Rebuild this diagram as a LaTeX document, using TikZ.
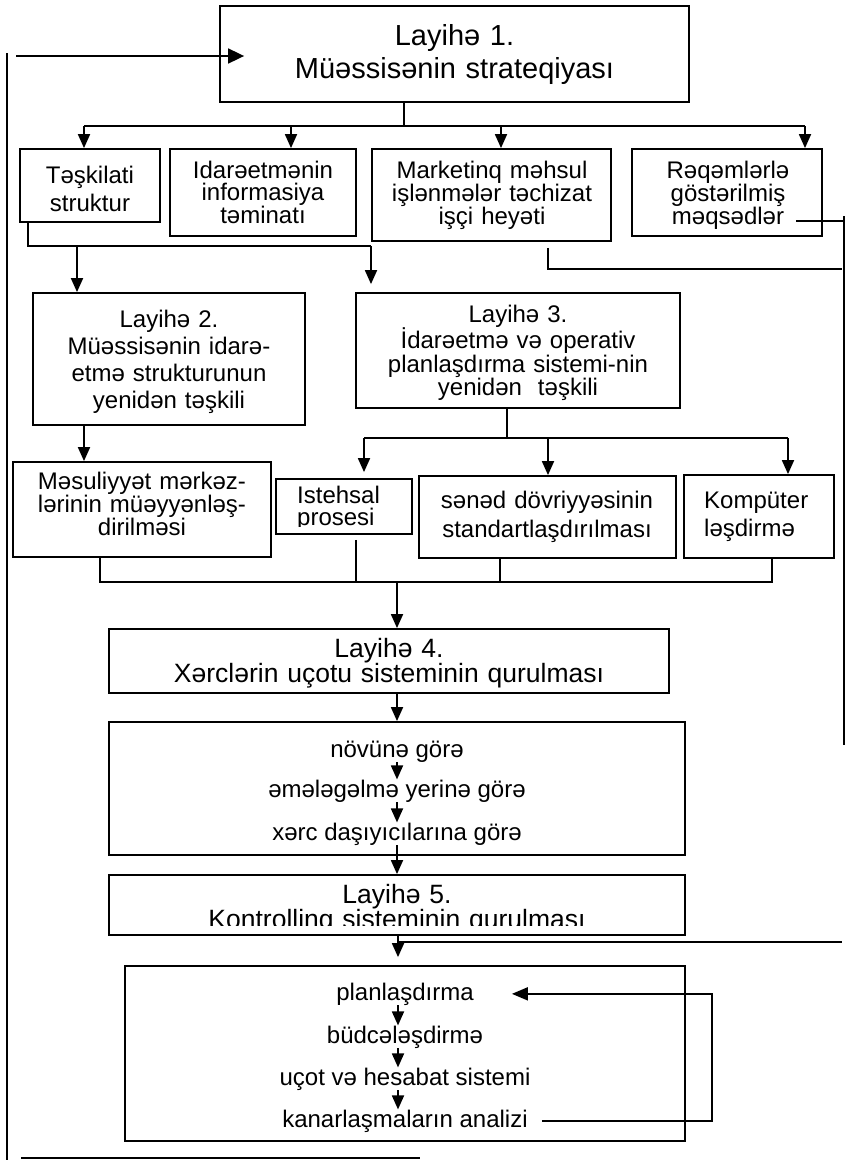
\documentclass[tikz,border=0pt]{standalone}
\usepackage{fontspec}
\setmainfont{Liberation Sans}
\usetikzlibrary{arrows.meta}
% tight Word-like line spacing: never insert extra \lineskip
\lineskiplimit=-1000pt
\lineskip=0pt
\begin{document}
\begin{tikzpicture}[x=1pt,y=-1pt,
  box/.style={draw, line width=1.8pt, inner sep=0pt, rectangle},
  ln/.style={line width=1.8pt},
  thin/.style={line width=1.4pt},
  arr/.style={ln, -{Triangle[width=12pt,length=14pt]}},
  fsz/.style 2 args={font=\fontsize{#1}{#2}\selectfont},
  mtxt/.style={anchor=base, inner sep=0pt, align=center, text width=#1},
  ltxt/.style={anchor=base west, inner sep=0pt, align=left, text width=200pt},
  stxt/.style={anchor=base, inner sep=0pt, font=\fontsize{24}{28}\selectfont}]
\useasboundingbox (0,0) rectangle (846,1160);

% ---------- boxes ----------
\node[box, minimum width=469, minimum height=96]  (L1) at (454.5,54)    {};
\node[box, minimum width=140, minimum height=73]  (tk) at (90,185.5)    {};
\node[box, minimum width=186, minimum height=87]  (id) at (263,192.5)   {};
\node[box, minimum width=239, minimum height=92]  (mk) at (491.5,195)   {};
\node[box, minimum width=190, minimum height=87]  (rq) at (727,192.5)   {};
\node[box, minimum width=272, minimum height=132] (L2) at (169,359)     {};
\node[box, minimum width=324, minimum height=115] (L3) at (518,350.5)   {};
\node[box, minimum width=258, minimum height=95]  (ms) at (142,509.5)   {};
\node[box, minimum width=136, minimum height=55]  (is) at (344,506.5)   {};
\node[box, minimum width=257, minimum height=82]  (sn) at (547.5,517)   {};
\node[box, minimum width=150, minimum height=83]  (kp) at (759,516.5)   {};
\node[box, minimum width=560, minimum height=64]  (L4) at (389,661)     {};
\node[box, minimum width=576, minimum height=133] (kx) at (397,788.5)   {};
\node[box, minimum width=576, minimum height=60]  (L5) at (397,905)     {};
\node[box, minimum width=560, minimum height=175] (kt) at (405,1053.5)  {};

% ---------- texts ----------
\node[mtxt=400, fsz={29}{33}]   (tL1) at (454.5,45) {Layihə 1.\\Müəssisənin strateqiyası};
\node[mtxt=200, fsz={24}{28}]   (ttk) at (90,183)   {Təşkilati\\struktur};
\node[mtxt=220, fsz={24}{22}]   (tid) at (263,178)  {Idarəetmənin\\informasiya\\təminatı};
\node[mtxt=260, fsz={24}{22}]   (tmk) at (492,178)  {Marketinq məhsul\\işlənmələr təchizat\\işçi heyəti};
\node[mtxt=220, fsz={24}{22}]   (trq) at (728,178)  {Rəqəmlərlə\\göstərilmiş\\məqsədlər};
\node[mtxt=280, fsz={24}{27}]   (tL2) at (169,327)  {Layihə 2.\\Müəssisənin idarə-\\etmə strukturunun\\yenidən təşkili};
\node[mtxt=320, fsz={24}{21.5}] (tL3) at (518,322)  {Layihə 3.\\İdarəetmə və operativ\\planlaşdırma sistemi-nin\\yenidən\ \ təşkili};
\node[mtxt=260, fsz={24}{18}]   (tms) at (142,489)  {Məsuliyyət mərkəz-\\lərinin müəyyənləş-\\dirilməsi};
\node[stxt, anchor=base west]   (tis) at (297,503)  {Istehsal};
\begin{scope}
  % the lower line of this label is cut off at its baseline
  \clip (276,505) rectangle (412,526);
  \node[stxt, anchor=base west] (tpr) at (297,525) {prosesi};
\end{scope}
\node[mtxt=260, fsz={24}{29}]   (tsn) at (547,508)  {sənəd dövriyyəsinin\\standartlaşdırılması};
\node[ltxt, fsz={24}{28}]       (tkp) at (704,508)  {Kompüter\\ləşdirmə};
\node[mtxt=480, fsz={26.5}{22}] (tL4) at (389,657)  {Layihə 4.\\Xərclərin uçotu sisteminin qurulması};
\node[stxt] (n1) at (397,757) {növünə görə};
\node[stxt] (n2) at (397,797) {əmələgəlmə yerinə görə};
\node[stxt] (n3) at (397,840) {xərc daşıyıcılarına görə};
\begin{scope}
  % descenders of the second line are cut off
  \clip (109,876) rectangle (685,925);
  \node[mtxt=480, fsz={26.5}{21}] (tL5) at (397,903) {Layihə 5.\\Kontrolling sisteminin qurulması};
\end{scope}
\node[stxt] (p1) at (405,1000) {planlaşdırma};
\node[stxt] (p2) at (405,1043) {büdcələşdirmə};
\node[stxt] (p3) at (405,1085) {uçot və hesabat sistemi};
\node[stxt] (p4) at (405,1127) {kanarlaşmaların analizi};

% ---------- outer return frame ----------
\coordinate (lt) at (7,53);
\coordinate (lb) at (7,1160);
\draw[thin] (lt) -- (lb);
\coordinate (fs) at (16,56);
\draw[ln, -{Triangle[width=15pt,length=16pt]}, shorten >=-25pt] (fs) -- (fs -| L1.west);
\coordinate (bl) at (21,1158);
\coordinate (br) at (420,1158);
\draw[ln] (bl) -- (br);

% ---------- Layihə 1 fan-out ----------
\coordinate (u1) at (404,126);
\coordinate (uL) at (84,126);
\coordinate (uR) at (805,126);
\coordinate (u2) at (291,126);
\coordinate (u3) at (501,126);
\draw[ln] (u1 |- L1.south) -- (u1);
\draw[ln] (uL) -- (uR);
\draw[arr] (uL) -- (uL |- tk.north);
\draw[arr] (u2) -- (u2 |- id.north);
\draw[arr] (u3) -- (u3 |- mk.north);
\draw[arr] (uR) -- (uR |- rq.north);

% ---------- Təşkilati struktur -> Layihə 2, Layihə 3 ----------
\coordinate (v1) at (28,246);
\coordinate (v2) at (371,246);
\coordinate (v3) at (77,246);
\draw[ln] (v1 |- tk.south) -- (v1) -- (v2);
\draw[arr, shorten >=8pt] (v2) -- (v2 |- L3.north);
\draw[arr] (v3) -- (v3 |- L2.north);

% ---------- right-hand return lines ----------
\coordinate (w1) at (548,269);
\coordinate (w2) at (842,269);
\draw[ln, shorten <=6pt] (w1 |- mk.south) -- (w1) -- (w2);
\coordinate (w3) at (796,221);
\coordinate (w4) at (845,221);
\draw[thin] (w3) -- (w4);
\coordinate (rt) at (844,216);
\coordinate (rb) at (844,745);
\draw[thin] (rt) -- (rb);

% ---------- Layihə 2 -> Məsuliyyət mərkəzləri ----------
\coordinate (g84) at (84,0);
\draw[arr] (g84 |- L2.south) -- (g84 |- ms.north);

% ---------- Layihə 3 fan-out ----------
\coordinate (x1) at (507,438);
\coordinate (xL) at (364,438);
\coordinate (xR) at (788,438);
\coordinate (x2) at (548,438);
\draw[ln] (x1 |- L3.south) -- (x1);
\draw[ln] (xL) -- (xR);
\draw[arr, shorten >=6pt] (xL) -- (xL |- is.north);
\draw[arr] (x2) -- (x2 |- sn.north);
\draw[arr] (xR) -- (xR |- kp.north);

% ---------- collecting bus into Layihə 4 ----------
\coordinate (yL) at (100,582);
\coordinate (yR) at (772,582);
\coordinate (y1) at (356,582);
\coordinate (y2) at (500,582);
\coordinate (y3) at (397,582);
\draw[ln] (yL |- ms.south) -- (yL) -- (yR) -- (yR |- kp.south);
\draw[ln, shorten <=5pt] (y1 |- is.south) -- (y1);
\draw[ln] (y2 |- sn.south) -- (y2);
\draw[arr] (y3) -- (y3 |- L4.north);

% ---------- Layihə 4 chain ----------
\draw[arr] (y3 |- L4.south) -- (y3 |- kx.north);
\draw[arr] (n1.south) -- (n2.north);
\draw[arr] (n2.south) -- (n3.north);
\draw[arr] (n3.south) -- (y3 |- L5.north);

% ---------- Layihə 5 chain ----------
\coordinate (z1) at (398,0);
\draw[arr, shorten >=8pt] (z1 |- L5.south) -- (z1 |- kt.north);
\coordinate (m1) at (399,942);
\coordinate (m2) at (842,942);
\draw[thin] (m1) -- (m2);
\draw[arr] (z1 |- p1.south) -- (z1 |- p2.north);
\draw[arr] (z1 |- p2.south) -- (z1 |- p3.north);
\draw[arr] (z1 |- p3.south) -- (z1 |- p4.north);
\coordinate (q) at (712,0);
\draw[ln, -{Triangle[width=13pt,length=16pt]}, shorten <=14pt, shorten >=38pt]
  (p4.east) -- (p4.east -| q) -- (p1.east -| q) -- (p1.east);
\end{tikzpicture}
\end{document}
